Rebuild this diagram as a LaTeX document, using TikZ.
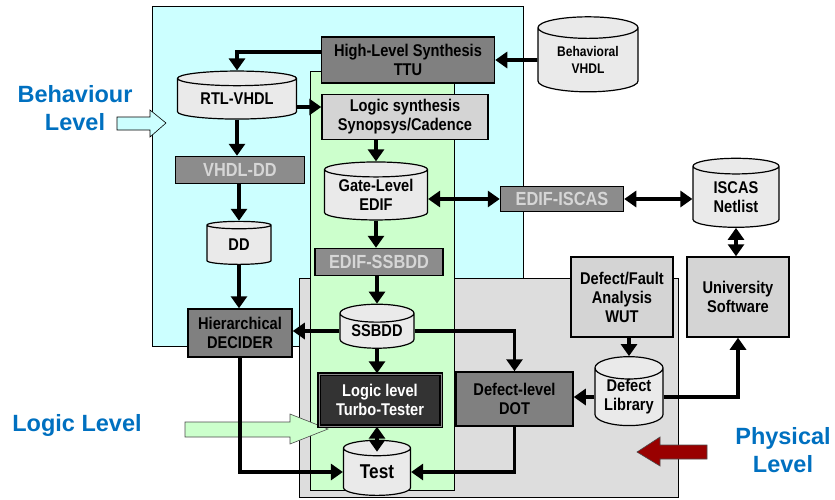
\documentclass[tikz,border=0pt]{standalone}
\usepackage{fontspec}
\setmainfont{Liberation Sans}
\newfontfamily\boxfont[FakeStretch=0.86]{Liberation Sans}
\usetikzlibrary{arrows.meta,shapes.geometric}

\definecolor{behfill}{HTML}{CCFFFF}
\definecolor{logfill}{HTML}{CCFFCC}
\definecolor{phyfill}{HTML}{DDDDDD}
\definecolor{darkgrey}{HTML}{808080}
\definecolor{lightgrey}{HTML}{D4D4D4}
\definecolor{fmtgrey}{HTML}{8C8C8C}
\definecolor{fmttext}{HTML}{D6D6D6}
\definecolor{storefill}{HTML}{EAEAEA}
\definecolor{levelblue}{HTML}{0070C0}
\definecolor{phyred}{HTML}{990000}

\tikzset{
  box/.style={draw, line width=1.5pt, align=center, inner sep=0pt,
    font=\boxfont\bfseries\fontsize{17}{19}\selectfont},
  darkbox/.style={box, fill=darkgrey},
  lightbox/.style={box, fill=lightgrey},
  fmtbox/.style={box, fill=fmtgrey, text=fmttext,
    font=\boxfont\bfseries\fontsize{19}{21}\selectfont},
  turbobox/.style={box, fill=black!80, text=white, double=black!45,
    double distance=1pt, line width=1.4pt},
  store/.style={cylinder, shape border rotate=90, aspect=0.35, draw,
    line width=1.2pt, fill=storefill, align=center, inner sep=0pt,
    font=\boxfont\bfseries\fontsize{17}{19}\selectfont},
  levellabel/.style={text=levelblue, align=center,
    font=\bfseries\fontsize{23.5}{28}\selectfont},
  link/.style={line width=3.8pt, -{Triangle[length=12pt,width=16pt]}},
  twoway/.style={line width=3.8pt, {Triangle[length=12pt,width=16pt]}-{Triangle[length=12pt,width=16pt]}}
}

\begin{document}
\begin{tikzpicture}[x=1pt,y=-1pt]
\useasboundingbox (0,0) rectangle (835,499);

\filldraw[fill=behfill, line width=0.8pt] (152,6) rectangle (523,346);
\filldraw[fill=phyfill, line width=0.8pt] (299,278) rectangle (678,497);
\filldraw[fill=logfill, line width=0.8pt] (310,71) rectangle (454,490);

\filldraw[fill=behfill, line width=0.6pt] (117,117) -- (150,117) -- (150,110) -- (166,123) -- (150,137) -- (150,130) -- (117,130) -- cycle;
\filldraw[fill=logfill, draw=black!70, line width=0.6pt] (185,422) -- (290,422) -- (290,414) -- (328,429) -- (290,444) -- (290,437) -- (185,437) -- cycle;
\filldraw[fill=phyred, draw=black!70, line width=0.6pt] (707,445) -- (660,445) -- (660,437) -- (637,452) -- (660,466) -- (660,459) -- (707,459) -- cycle;

\node[levellabel] (behlabel) at (75,108) {Behaviour\\Level};
\node[levellabel] (loglabel) at (77,425) {Logic Level};
\node[levellabel] (phylabel) at (783,450) {Physical\\Level};

\node[darkbox, minimum width=173pt, minimum height=46pt] (hls) at (408,60) {High-Level Synthesis\\TTU};
\node[store, minimum width=100pt, minimum height=75pt, font=\boxfont\bfseries\fontsize{14}{17}\selectfont] (behav) at (588,60) {Behavioral\\VHDL};
\node[store, aspect=0.2, minimum width=119pt, minimum height=48pt] (rtl) at (237,99) {RTL-VHDL};
\node[lightbox, minimum width=166pt, minimum height=45pt] (lsyn) at (405,117) {Logic synthesis\\Synopsys/Cadence};
\node[fmtbox, minimum width=129pt, minimum height=27pt] (vhdldd) at (240,170) {VHDL-DD};
\node[store, aspect=0.2, minimum width=103pt, minimum height=58pt] (gate) at (376,195) {Gate-Level\\EDIF};
\node[fmtbox, minimum width=123pt, minimum height=25pt] (edifiscas) at (562,199) {EDIF-ISCAS};
\node[store, minimum width=86pt, minimum height=69pt] (iscas) at (736,197) {ISCAS\\Netlist};
\node[store, minimum width=64pt, minimum height=43pt] (dd) at (239,245) {DD};
\node[fmtbox, minimum width=128pt, minimum height=27pt] (edifssbdd) at (379,262) {EDIF-SSBDD};
\node[store, minimum width=74pt, minimum height=44pt] (ssbdd) at (377,331) {SSBDD};
\node[darkbox, minimum width=104pt, minimum height=48pt] (decider) at (240,333) {Hierarchical\\DECIDER};
\node[turbobox, minimum width=122pt, minimum height=52pt] (turbo) at (380,400) {Logic level\\Turbo-Tester};
\node[store, aspect=0.45, minimum width=67pt, minimum height=55pt, font=\boxfont\bfseries\fontsize{20}{22}\selectfont] (test) at (377,472) {Test};
\node[darkbox, minimum width=117pt, minimum height=54pt] (dot) at (514.5,399) {Defect-level\\DOT};
\node[lightbox, minimum width=102pt, minimum height=80pt] (dfa) at (622,297) {Defect/Fault\\Analysis\\WUT};
\node[lightbox, minimum width=102pt, minimum height=80pt] (usw) at (738,297) {University\\Software};
\node[store, aspect=0.45, minimum width=68pt, minimum height=60pt] (deflib) at (629,397) {Defect\\Library};

\draw[link] (behav) -- (hls);
\draw[link] ([yshift=8pt]hls.west) -| (rtl.north);
\draw[link] ([yshift=-8pt]rtl.east) -- ([yshift=-8pt]rtl.east -| lsyn.west);
\draw[link] (rtl.south) -- (rtl.south |- vhdldd.north);
\draw[link] (gate.north |- lsyn.south) -- (gate.north);
\draw[twoway] (edifiscas.west -| gate.east) -- (edifiscas.west);
\draw[twoway] (edifiscas.east) -- (edifiscas.east -| iscas.west);
\draw[link] (dd.north |- vhdldd.south) -- (dd.north);
\draw[link] (gate.south) -- (gate.south |- edifssbdd.north);
\draw[link] (dd.south) -- (dd.south |- decider.north);
\draw[link] (ssbdd.north |- edifssbdd.south) -- (ssbdd.north);
\draw[link] (ssbdd.west) -- (ssbdd.west -| decider.east);
\draw[link] (ssbdd.east) -| (dot.north);
\draw[link] (ssbdd.south) -- (ssbdd.south |- turbo.north);
\draw[twoway] (test.north |- turbo.south) -- ([yshift=-12pt]test.north);
\draw[link] (decider.south) |- (test.west);
\draw[link] (dot.south) |- (test.east);
\draw[link] (deflib.north |- dfa.south) -- (deflib.north);
\draw[link] (deflib.west) -- (deflib.west -| dot.east);
\draw[link] (deflib.east) -| (usw.south);
\draw[twoway] (iscas.south) -- (iscas.south |- usw.north);
\end{tikzpicture}
\end{document}
